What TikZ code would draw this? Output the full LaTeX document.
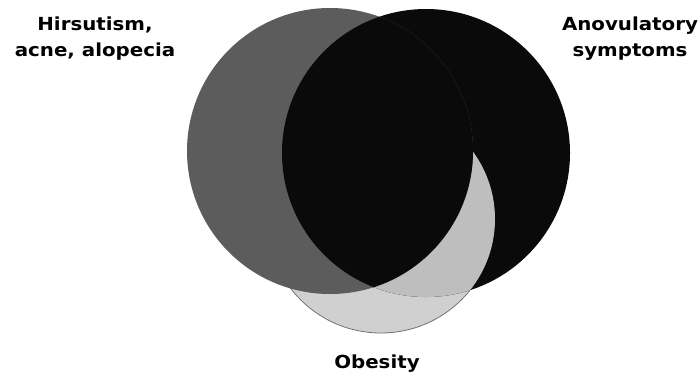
\documentclass[tikz,border=0pt]{standalone}
\usepackage{fontspec}
\setmainfont{DejaVu Sans}
\begin{document}
\begin{tikzpicture}[x=1pt,y=-1pt,
  lbl/.style={font=\bfseries\addfontfeature{FakeStretch=1.1}\fontsize{18}{26}\selectfont, align=center, text=black, inner sep=0pt}]
\definecolor{hirgray}{HTML}{5C5C5C}
\definecolor{obelight}{HTML}{D0D0D0}
\definecolor{crescent}{HTML}{BEBEBE}
\definecolor{anoblack}{HTML}{0A0A0A}
\useasboundingbox (0,0) rectangle (700,376);
\def\hir{(330,151) circle (143)}
\def\ano{(426,153) circle (144)}
\def\obe{(381,219) circle (114)}
% obesity circle
\fill[obelight, draw=black!55, line width=0.8pt] \obe;
% anovulatory circle
\fill[anoblack] \ano;
% crescent: obesity inside anovulatory shown light
\begin{scope}
  \clip \obe;
  \fill[crescent] \ano;
\end{scope}
% hirsutism circle
\fill[hirgray] \hir;
% overlap of hirsutism and anovulatory in black
\begin{scope}
  \clip \hir;
  \fill[anoblack] \ano;
\end{scope}
\node[lbl] (hirlbl) at (95,39) {Hirsutism,\\acne, alopecia};
\node[lbl] (anolbl) at (630,39) {Anovulatory\\symptoms};
\node[lbl] (obelbl) at (377,364) {Obesity};
\end{tikzpicture}
\end{document}
